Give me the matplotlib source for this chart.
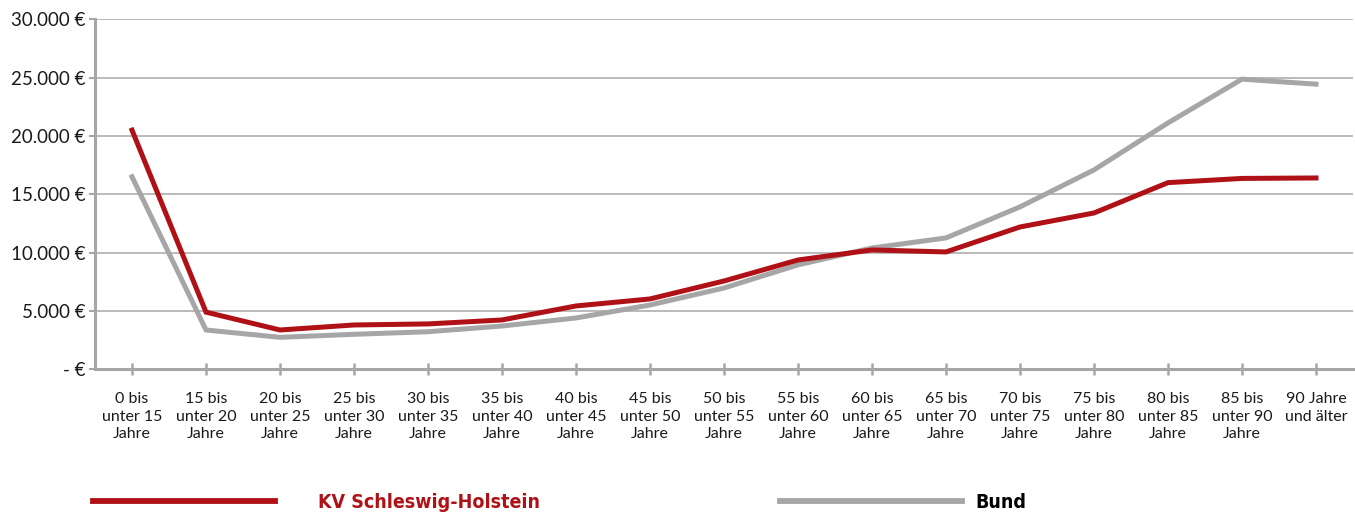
import matplotlib.pyplot as plt
from matplotlib.lines import Line2D
import numpy as np

# age groups (x axis)
categories = ["0 bis\nunter 15\nJahre", "15 bis\nunter 20\nJahre", "20 bis\nunter 25\nJahre",
              "25 bis\nunter 30\nJahre", "30 bis\nunter 35\nJahre", "35 bis\nunter 40\nJahre",
              "40 bis\nunter 45\nJahre", "45 bis\nunter 50\nJahre", "50 bis\nunter 55\nJahre",
              "55 bis\nunter 60\nJahre", "60 bis\nunter 65\nJahre", "65 bis\nunter 70\nJahre",
              "70 bis\nunter 75\nJahre", "75 bis\nunter 80\nJahre", "80 bis\nunter 85\nJahre",
              "85 bis\nunter 90\nJahre", "90 Jahre\nund älter"]

kv_sh = [20500, 4900, 3370, 3800, 3890, 4230, 5430, 6030, 7570,
         9370, 10230, 10060, 12200, 13400, 16000, 16360, 16400]
bund = [16500, 3370, 2740, 3000, 3220, 3710, 4400, 5510, 6970,
        8950, 10400, 11260, 13920, 17090, 21120, 24870, 24440]

yticks = [0, 5000, 10000, 15000, 20000, 25000, 30000]
ytick_labels = ["- €", "5.000 €", "10.000 €", "15.000 €", "20.000 €", "25.000 €", "30.000 €"]

RED = "#b01116"
GREY = "#a6a6a6"
AXGREY = "#a6a6a6"

plt.rcParams['font.family'] = ['Lato', 'DejaVu Sans']

W, H = 1355, 519
fig = plt.figure(figsize=(W / 100, H / 100), dpi=100)
ax = fig.add_axes([95 / W, 1 - 369.3 / H, (1353 - 95) / W, (369.3 - 19.3) / H])

x = np.arange(len(categories))
ax.plot(x, kv_sh, color=RED, lw=3.6, solid_joinstyle='miter', zorder=3)
ax.plot(x, bund, color=GREY, lw=3.6, solid_joinstyle='miter', zorder=2)

ax.set_xlim(-0.5, len(categories) - 0.5)
ax.set_ylim(0, 30000)
ax.set_yticks(yticks)
ax.set_yticklabels(ytick_labels, fontsize=13.5, color="#1a1a1a")
ax.set_xticks(x)
ax.set_xticklabels(categories, fontsize=11.5, color="#1a1a1a", linespacing=1.3)

ax.grid(axis='y', color="#b4b4b4", lw=1.3)
ax.set_axisbelow(True)
for s in ['top', 'right']:
    ax.spines[s].set_visible(False)
for s in ['left', 'bottom']:
    ax.spines[s].set_color(AXGREY)
    ax.spines[s].set_linewidth(2.2)

ax.tick_params(axis='x', direction='inout', length=9, width=1.8, color=AXGREY, pad=12)
ax.tick_params(axis='y', direction='out', length=4, width=1.5, color=AXGREY, pad=3)

# legend drawn below the chart
fig.add_artist(Line2D([93 / W, 275 / W], [1 - 501 / H] * 2, color=RED, lw=4.2,
                      transform=fig.transFigure))
fig.text(318 / W, 1 - 503 / H, "KV Schleswig-Holstein", color=RED, fontsize=14,
         fontweight='bold', fontstretch='condensed', va='center', ha='left',
         family='DejaVu Sans')
fig.add_artist(Line2D([780 / W, 962 / W], [1 - 501 / H] * 2, color=GREY, lw=4.2,
                      transform=fig.transFigure))
fig.text(975 / W, 1 - 503 / H, "Bund", color="black", fontsize=14,
         fontweight='bold', fontstretch='condensed', va='center', ha='left',
         family='DejaVu Sans')

fig.savefig("out.png", dpi=100)
